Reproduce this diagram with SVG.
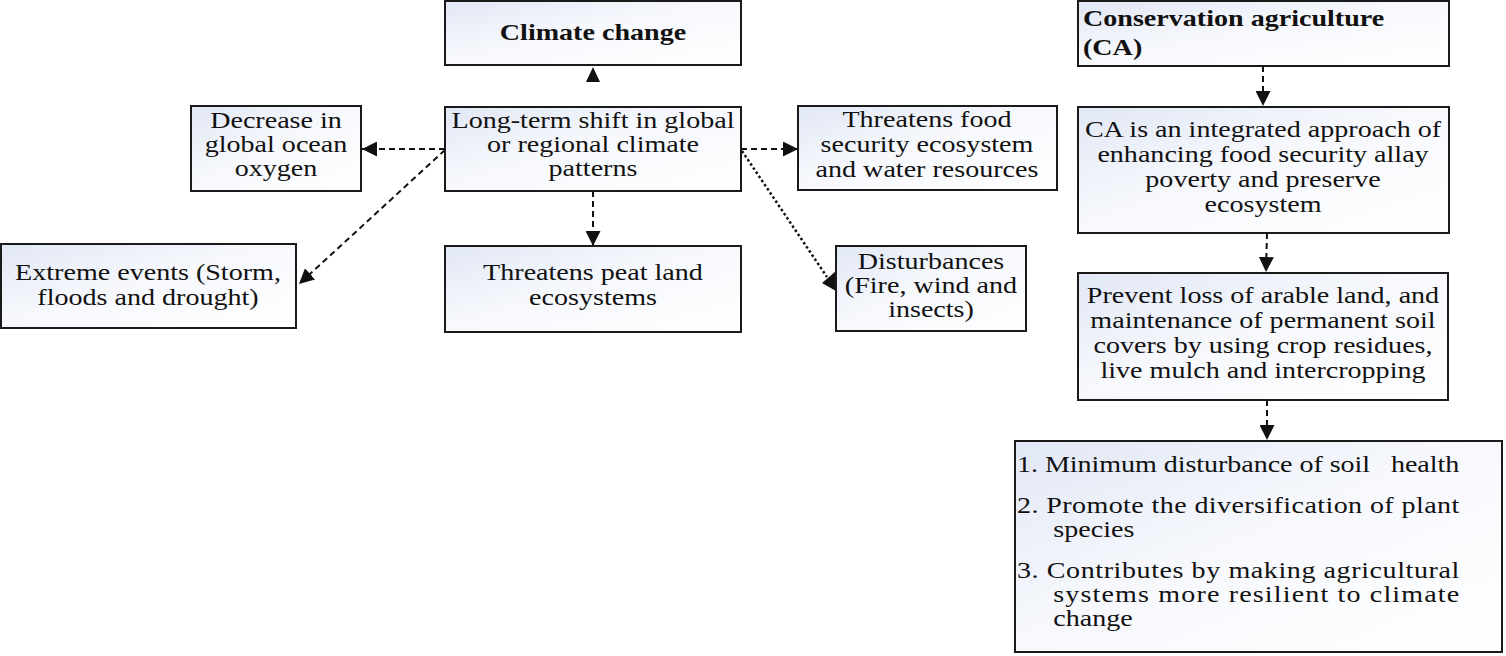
<svg xmlns="http://www.w3.org/2000/svg" width="1506" height="656" viewBox="0 0 1506 656">
  <defs>
    <linearGradient id="boxfill" x1="0" y1="0" x2="1" y2="1">
      <stop offset="0" stop-color="#e1e7f5"/>
      <stop offset="0.45" stop-color="#f6f8fc"/>
      <stop offset="1" stop-color="#ffffff"/>
    </linearGradient>
    <marker id="ah" viewBox="0 0 10 10" refX="10" refY="5" markerWidth="15" markerHeight="15" markerUnits="userSpaceOnUse" orient="auto">
      <path d="M0,0 L10,5 L0,10 z" fill="#111"/>
    </marker>
    <style>
      .box { fill: url(#boxfill); stroke: #1a1a1a; stroke-width: 2; }
      text { font-family: "Liberation Serif", "Times New Roman", serif; font-size: 24px; fill: #111; }
      .c { text-anchor: middle; }
      .b { font-weight: bold; }
      .dash { fill: none; stroke: #111; stroke-width: 2; stroke-dasharray: 6 4; }
      .dot { fill: none; stroke: #111; stroke-width: 2.5; stroke-dasharray: 2.5 2.5; }
      .head { fill: #111; }
    </style>
  </defs>
  <rect width="1506" height="656" fill="#ffffff"/>

  <g id="connectors">
    <polygon class="head" points="593,67 586,82 600,82"/>
    <path class="dash" d="M445,149 L362,149" marker-end="url(#ah)"/>
    <path class="dash" d="M445,150 L299,284" marker-end="url(#ah)"/>
    <path class="dash" d="M741,149 L798,149" marker-end="url(#ah)"/>
    <path class="dot" d="M742,151 L827,277"/>
    <polygon class="head" points="836,271 836,291 822,283"/>
    <path class="dash" d="M593,191 L593,246" marker-end="url(#ah)"/>
    <path class="dash" d="M1263,66 L1263,106" marker-end="url(#ah)"/>
    <path class="dash" d="M1267,233 L1266,272" marker-end="url(#ah)"/>
    <path class="dash" d="M1267,400 L1267,440" marker-end="url(#ah)"/>
  </g>

  <g id="climate-change">
    <rect class="box" x="445" y="1" width="296" height="64"/>
    <g transform="translate(593 0) scale(1.17 1)">
      <text class="c b" x="0" y="40">Climate change</text>
    </g>
  </g>

  <g id="long-term-shift">
    <rect class="box" x="445" y="107" width="296" height="84"/>
    <g transform="translate(593 0) scale(1.17 1)">
      <text class="c" x="0" y="128">Long-term shift in global</text>
      <text class="c" x="0" y="152">or regional climate</text>
      <text class="c" x="0" y="176">patterns</text>
    </g>
  </g>

  <g id="ocean-oxygen">
    <rect class="box" x="191" y="106" width="170" height="85"/>
    <g transform="translate(276 0) scale(1.17 1)">
      <text class="c" x="0" y="128">Decrease in</text>
      <text class="c" x="0" y="152">global ocean</text>
      <text class="c" x="0" y="176">oxygen</text>
    </g>
  </g>

  <g id="food-security">
    <rect class="box" x="798" y="106" width="259" height="84"/>
    <g transform="translate(927 0) scale(1.17 1)">
      <text class="c" x="0" y="127">Threatens food</text>
      <text class="c" x="0" y="152">security ecosystem</text>
      <text class="c" x="0" y="177">and water resources</text>
    </g>
  </g>

  <g id="extreme-events">
    <rect class="box" x="1" y="244" width="295" height="84"/>
    <g transform="translate(148 0) scale(1.17 1)">
      <text class="c" x="0" y="280">Extreme events (Storm,</text>
      <text class="c" x="0" y="305">floods and drought)</text>
    </g>
  </g>

  <g id="peat-land">
    <rect class="box" x="445" y="246" width="296" height="86"/>
    <g transform="translate(593 0) scale(1.17 1)">
      <text class="c" x="0" y="280">Threatens peat land</text>
      <text class="c" x="0" y="305">ecosystems</text>
    </g>
  </g>

  <g id="disturbances">
    <rect class="box" x="836" y="246" width="190" height="85"/>
    <g transform="translate(931 0) scale(1.17 1)">
      <text class="c" x="0" y="269">Disturbances</text>
      <text class="c" x="0" y="293">(Fire, wind and</text>
      <text class="c" x="0" y="317">insects)</text>
    </g>
  </g>

  <g id="conservation-agriculture">
    <rect class="box" x="1078" y="1" width="371" height="65"/>
    <g transform="translate(1083 0) scale(1.17 1)">
      <text class="b" x="0" y="26">Conservation agriculture</text>
      <text class="b" x="0" y="55">(CA)</text>
    </g>
  </g>

  <g id="ca-integrated">
    <rect class="box" x="1078" y="107" width="371" height="126"/>
    <g transform="translate(1263 0) scale(1.17 1)">
      <text class="c" x="0" y="137">CA is an integrated approach of</text>
      <text class="c" x="0" y="162">enhancing food security allay</text>
      <text class="c" x="0" y="187">poverty and preserve</text>
      <text class="c" x="0" y="212">ecosystem</text>
    </g>
  </g>

  <g id="prevent-loss">
    <rect class="box" x="1078" y="273" width="370" height="127"/>
    <g transform="translate(1263 0) scale(1.17 1)">
      <text class="c" x="0" y="303">Prevent loss of arable land, and</text>
      <text class="c" x="0" y="328">maintenance of permanent soil</text>
      <text class="c" x="0" y="353">covers by using crop residues,</text>
      <text class="c" x="0" y="378">live mulch and intercropping</text>
    </g>
  </g>

  <g id="ca-principles">
    <rect class="box" x="1015" y="441" width="487" height="211"/>
    <g transform="translate(1017 0) scale(1.17 1)">
      <text x="0" y="472" xml:space="preserve" style="white-space:pre" textLength="378" lengthAdjust="spacing">1. Minimum disturbance of soil   health</text>
      <text x="0" y="513" textLength="378" lengthAdjust="spacing">2. Promote the diversification of plant</text>
      <text x="31" y="537">species</text>
      <text x="0" y="578" textLength="378" lengthAdjust="spacing">3. Contributes by making agricultural</text>
      <text x="31" y="602" textLength="347" lengthAdjust="spacing">systems more resilient to climate</text>
      <text x="31" y="626">change</text>
    </g>
  </g>
</svg>
